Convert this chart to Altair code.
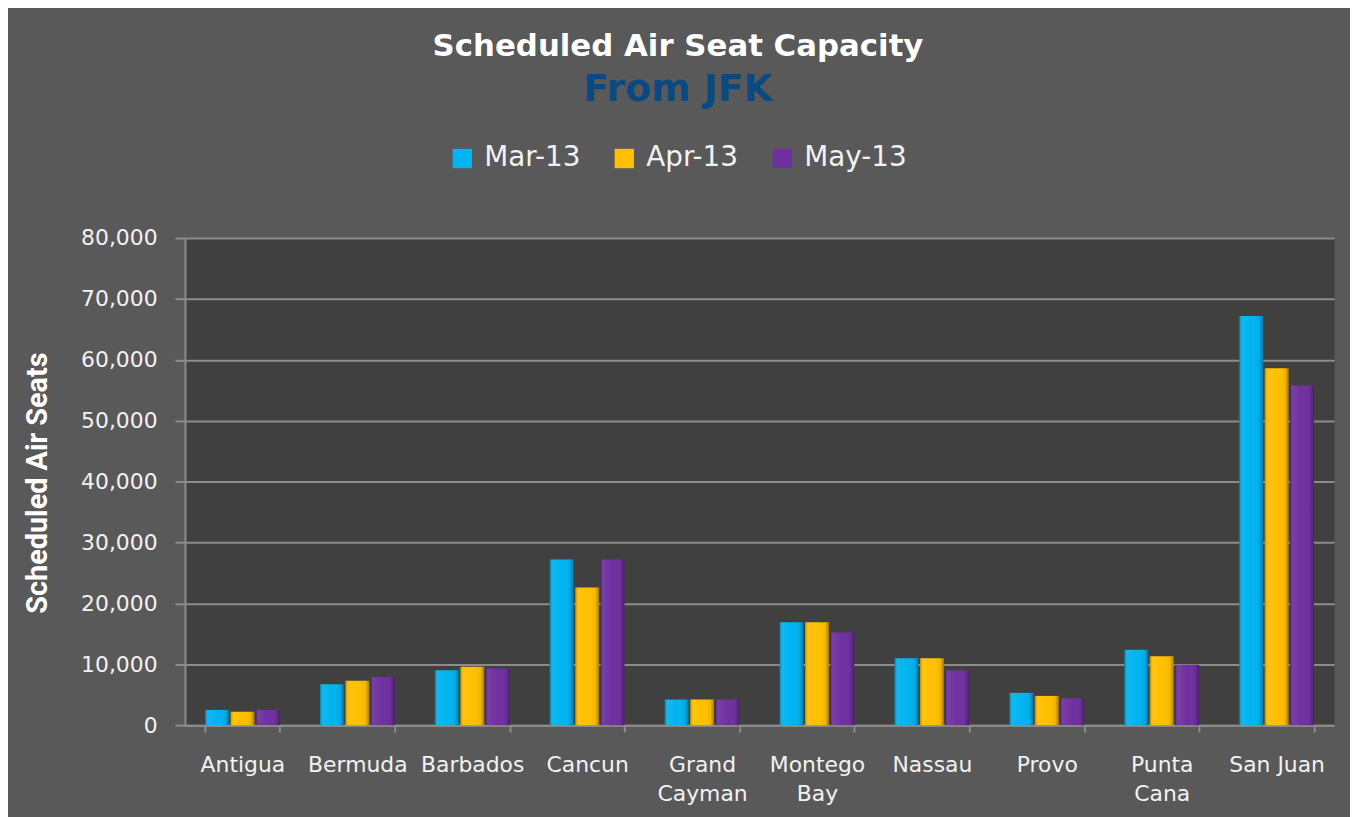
import altair as alt
import pandas as pd

categories = ["Antigua", "Bermuda", "Barbados", "Cancun", "Grand Cayman",
              "Montego Bay", "Nassau", "Provo", "Punta Cana", "San Juan"]
months = ["Mar-13", "Apr-13", "May-13"]
mar13 = [2500, 6700, 9000, 27200, 4200, 16900, 11000, 5300, 12400, 67200]
apr13 = [2200, 7300, 9600, 22600, 4200, 16900, 11000, 4800, 11300, 58600]
may13 = [2500, 7900, 9300, 27200, 4200, 15200, 9000, 4400, 9900, 55800]
colors = ["#00B4F0", "#FFC000", "#7030A0"]

rows = []
for i, c in enumerate(categories):
    for m, vals in zip(months, [mar13, apr13, may13]):
        rows.append({"dest": c, "month": m, "seats": vals[i]})
df = pd.DataFrame(rows)

label_color = "#F2F2F2"
grid_color = "#8C8C8C"

x_enc = alt.X(
    "dest:N", sort=categories, title=None,
    scale=alt.Scale(paddingInner=0.35, paddingOuter=0.175),
    axis=alt.Axis(
        labelAngle=0,
        labelExpr="datum.label == 'San Juan' ? datum.label : split(datum.label, ' ')",
        tickBand="extent", ticks=True, tickSize=7, tickColor=grid_color, tickWidth=2,
        domainColor=grid_color, domainWidth=2,
        labelFont="DejaVu Sans", labelFontSize=22, labelColor=label_color,
        labelPadding=23, labelLineHeight=29, labelBaseline="top", grid=False,
    ),
)
xo_enc = alt.XOffset("month:N", sort=months, scale=alt.Scale(paddingInner=0.06))
y_enc = alt.Y(
    "seats:Q",
    scale=alt.Scale(domain=[0, 80000]),
    axis=alt.Axis(
        values=list(range(0, 80001, 10000)), format=",.0f",
        labelFont="DejaVu Sans", labelFontSize=22, labelColor=label_color,
        labelPadding=18, tickSize=10, tickColor=grid_color, tickWidth=2,
        domainColor=grid_color, domainWidth=2,
        grid=True, gridColor=grid_color, gridWidth=2,
        title="Scheduled Air Seats",
        titleFont="Roboto", titleFontSize=29, titleFontWeight="bold", titleColor="white",
        titleAngle=-90, titleX=-148, titleY=246, titleAlign="center", titleBaseline="middle",
    ),
)

bars = alt.Chart(df).mark_bar().encode(
    x=x_enc, xOffset=xo_enc, y=y_enc,
    color=alt.Color(
        "month:N", sort=months,
        scale=alt.Scale(domain=months, range=colors),
        legend=alt.Legend(
            title=None, orient="none", direction="horizontal",
            legendX=265, legendY=-94,
            symbolType="square", symbolSize=380, symbolStrokeWidth=0, symbolOpacity=1,
            labelFont="DejaVu Sans", labelFontSize=28, labelColor=label_color,
            labelOffset=8, columnPadding=30,
        ),
    ),
)

shade = alt.Chart(df).mark_bar(
    color=alt.LinearGradient(
        gradient="linear", x1=0, x2=1, y1=0, y2=0,
        stops=[
            alt.GradientStop(offset=0, color="rgba(0,0,0,0.30)"),
            alt.GradientStop(offset=0.15, color="rgba(255,255,255,0.06)"),
            alt.GradientStop(offset=0.5, color="rgba(255,255,255,0.0)"),
            alt.GradientStop(offset=0.85, color="rgba(0,0,0,0.05)"),
            alt.GradientStop(offset=1, color="rgba(0,0,0,0.35)"),
        ],
    )
).encode(x=x_enc, xOffset=xo_enc, y=y_enc)

chart = alt.layer(bars, shade).properties(
    width=1156, height=490,
    autosize=alt.AutoSizeParams(type="none"),
    padding={"left": 178, "top": 229, "right": 16, "bottom": 90},
    title=alt.Title(
        text="Scheduled Air  Seat Capacity",
        subtitle="From JFK",
        font="DejaVu Sans", fontSize=31, fontWeight="bold", color="white",
        subtitleFont="DejaVu Sans", subtitleFontSize=38, subtitleFontWeight="bold",
        subtitleColor="#0B4A80", subtitlePadding=8,
        anchor="middle", dx=-82, offset=35,
    ),
).configure(background="#595959").configure_view(fill="#404040", stroke="transparent")

chart.save("out.html", embed_options={"renderer": "svg", "actions": False})
